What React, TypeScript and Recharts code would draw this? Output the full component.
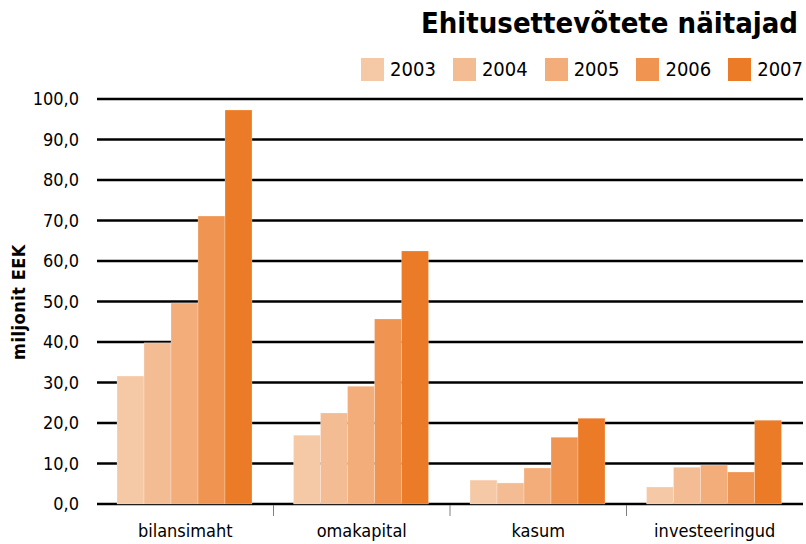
import React from 'react';
import { BarChart, Bar, XAxis, YAxis, CartesianGrid } from 'recharts';

const categories = ['bilansimaht', 'omakapital', 'kasum', 'investeeringud'];
const years = ['2003', '2004', '2005', '2006', '2007'];
const v2003 = [31.6, 17.0, 5.9, 4.2];
const v2004 = [39.8, 22.5, 5.2, 9.1];
const v2005 = [49.6, 29.1, 8.9, 9.6];
const v2006 = [71.1, 45.7, 16.5, 7.9];
const v2007 = [97.3, 62.5, 21.2, 20.7];
const yTicks = [0, 10, 20, 30, 40, 50, 60, 70, 80, 90, 100];
const colors = ['#F6C9A6', '#F4BC93', '#F2AD7A', '#EF9551', '#EC7B28'];

const seriesValues = [v2003, v2004, v2005, v2006, v2007];
const data = categories.map((c, i) => {
  const row: Record<string, string | number> = { name: c };
  years.forEach((y, k) => {
    row[y] = seriesValues[k][i];
  });
  return row;
});

const FONT = '"DejaVu Sans Condensed", "DejaVu Sans", sans-serif';
const W = 806;
const H = 544;
const LEFT = 97;
const RIGHT = 3;
const BAND = (W - LEFT - RIGHT) / categories.length;

const YTick = (props: any) => {
  const { y, payload } = props;
  return (
    <text x={79} y={y} dy={6} textAnchor="end" fontFamily={FONT} fontSize={18} fill="#000">
      {payload.value.toFixed(1).replace('.', ',')}
    </text>
  );
};

const XTick = (props: any) => {
  const { x, payload, index } = props;
  return (
    <g>
      {index < categories.length - 1 && (
        <line x1={x + BAND / 2} x2={x + BAND / 2} y1={505} y2={516} stroke="#808080" strokeWidth={1} />
      )}
      <text x={x} y={537} textAnchor="middle" fontFamily={FONT} fontSize={18} fill="#000">
        {payload.value}
      </text>
    </g>
  );
};

const LegendBox = () => (
  <div
    style={{
      position: 'absolute',
      top: 58,
      right: 3,
      display: 'flex',
      justifyContent: 'flex-end',
      fontFamily: FONT,
    }}
  >
    {years.map((y, k) => (
      <div key={y} style={{ display: 'flex', alignItems: 'center', marginLeft: k === 0 ? 0 : 17 }}>
        <div style={{ width: 23, height: 23, background: colors[k] }} />
        <span style={{ marginLeft: 6, fontSize: 20, lineHeight: '23px' }}>{y}</span>
      </div>
    ))}
  </div>
);

export default function App() {
  return (
    <div style={{ position: 'absolute', left: 0, top: 0, width: W, height: H, background: '#fff' }}>
      <BarChart
        width={W}
        height={H}
        data={data}
        margin={{ top: 99, right: RIGHT, bottom: 0, left: 0 }}
        barCategoryGap={20}
        barGap={0}
      >
        <CartesianGrid vertical={false} stroke="#000" strokeWidth={2.5} strokeOpacity={1} />
        <XAxis dataKey="name" height={40} axisLine={false} tickLine={false} tick={<XTick />} interval={0} />
        <YAxis
          width={LEFT}
          domain={[0, 100]}
          ticks={yTicks}
          axisLine={false}
          tickLine={false}
          tick={<YTick />}
          interval={0}
        />
        {years.map((y, k) => (
          <Bar key={y} dataKey={y} fill={colors[k]} stroke="#ffffff" strokeOpacity={0.25} strokeWidth={1} isAnimationActive={false} />
        ))}
      </BarChart>
      <div
        style={{
          position: 'absolute',
          right: 8,
          top: 3,
          fontFamily: FONT,
          fontWeight: 'bold',
          fontSize: 29,
          lineHeight: '40px',
          color: '#000',
        }}
      >
        Ehitusettevõtete näitajad
      </div>
      <div
        style={{
          position: 'absolute',
          left: 18,
          top: 302,
          transform: 'translate(-50%, -50%) rotate(-90deg)',
          fontFamily: FONT,
          fontWeight: 'bold',
          fontSize: 18,
          whiteSpace: 'nowrap',
          letterSpacing: 0.5,
        }}
      >
        miljonit EEK
      </div>
      <LegendBox />
    </div>
  );
}
